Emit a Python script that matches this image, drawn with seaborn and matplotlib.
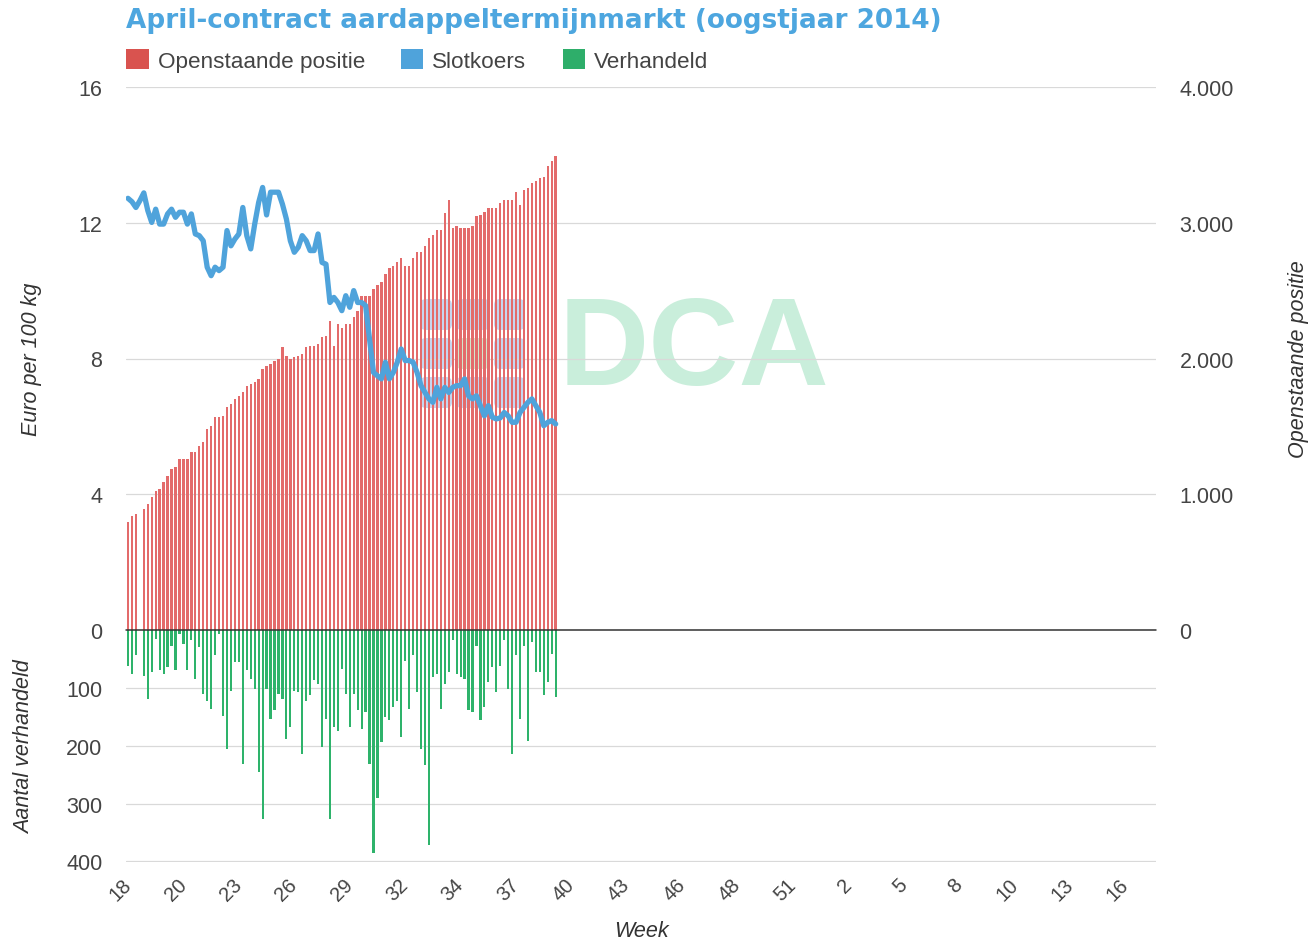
import numpy as np
import pandas as pd
import seaborn as sns
import matplotlib.pyplot as plt
from matplotlib.patches import Patch, FancyBboxPatch

# week labels on the x axis (one every 14 trading days)
week_labels = ['18', '20', '23', '26', '29', '32', '34', '37', '40', '43',
               '46', '48', '51', '2', '5', '8', '10', '13', '16']
right_tick_labels = ['0', '1.000', '2.000', '3.000', '4.000']

# open interest per trading day (right axis)
openstaand = [793, 842, 855, np.nan, 891, 928, 977, 1026, 1039, 1088, 1137, 1186, 1198, 1260,
              1260, 1260, 1309, 1309, 1358, 1382, 1481, 1505, 1567, 1567, 1579, 1640, 1665, 1702,
              1726, 1751, 1800, 1812, 1824, 1849, 1923, 1947, 1960, 1984, 1996, 2082, 2021, 1996,
              2009, 2021, 2033, 2082, 2095, 2095, 2107, 2156, 2168, 2277, 2095, 2252, 2227, 2252,
              2252, 2303, 2352, 2463, 2458, 2463, 2512, 2541, 2566, 2622, 2664, 2679, 2713, 2740,
              2679, 2679, 2740, 2787, 2787, 2826, 2885, 2910, 2949, 2949, 3072, 3170, 2959, 2974,
              2959, 2959, 2959, 2974, 3047, 3057, 3082, 3106, 3106, 3106, 3145, 3170, 3170, 3170,
              3229, 3131, 3244, 3256, 3293, 3305, 3327, 3339, 3416, 3453, 3489]

# closing price, euro per 100 kg (left axis)
slotkoers = [12.72, 12.62, 12.45, 12.65, 12.88, 12.36, 12.01, 12.40, 11.96, 11.96, 12.26, 12.40,
             12.16, 12.31, 12.31, 11.96, 12.26, 11.67, 11.62, 11.47, 10.69, 10.44, 10.69, 10.59,
             10.69, 11.77, 11.32, 11.52, 11.67, 12.45, 11.62, 11.23, 11.96, 12.60, 13.04, 12.23,
             12.90, 12.90, 12.90, 12.55, 12.11, 11.47, 11.13, 11.28, 11.62, 11.47, 11.18, 11.18,
             11.67, 10.83, 10.78, 9.65, 9.80, 9.65, 9.41, 9.85,
             9.51, 10.00, 9.65, 9.65, 9.56, 8.57, 7.59, 7.49, 7.40, 7.89, 7.40, 7.59, 7.89, 8.28,
             7.94, 7.94, 7.89, 7.59, 7.20, 7.00, 6.81, 6.71, 7.15, 6.81, 7.15, 7.00, 7.15, 7.20,
             7.20, 7.40, 6.90, 6.81, 6.90, 6.61, 6.31, 6.61, 6.27, 6.22, 6.25, 6.41, 6.31, 6.12,
             6.12, 6.41, 6.56, 6.71, 6.81, 6.61, 6.41, 6.02, 6.12, 6.17, 6.07]

# contracts traded per day (lower panel)
verhandeld = [62, 76, 44, np.nan, 79, 119, 73, 16, 70, 76, 64, 27, 70, 7, 24, 70, 18, 85, 30, 110,
              122, 136, 44, 7, 148, 205, 105, 56, 56, 231, 70, 85, 102, 245, 326, 102, 153, 139,
              110, 119, 188, 168, 105, 107, 214, 122, 113, 87, 93, 202, 153, 326, 168, 174, 67, 110,
              168, 110, 139, 171, 142, 231, 386, 291, 194, 151, 156, 133, 122, 185, 53, 136, 44,
              107, 205, 234, 372, 82, 76, 136, 93, 73, 18, 76, 82, 85, 139, 142, 27, 156, 133, 90,
              64, 107, 62, 18, 102, 214, 44, 153, 27, 191, 21, 73, 73, 113, 90, 41, 116]

RED = '#e36b6b'
BLUE = '#4fa3db'
GREEN = '#2eb36b'
TXT = '#444444'

df = pd.DataFrame({
    'dag': np.arange(len(openstaand)),
    'Openstaande positie': openstaand,
    'Slotkoers': slotkoers,
    'Verhandeld': verhandeld,
})

sns.set_theme(style='white')
plt.rcParams['font.family'] = ['Liberation Sans', 'DejaVu Sans']

W, H = 1313, 945
fig = plt.figure(figsize=(W / 100, H / 100), dpi=100, facecolor='white')
left, width = 126 / W, 1030 / W

# faint DCA watermark on its own pixel-based axes behind everything
wm = fig.add_axes([0, 0, 1, 1], zorder=-5)
wm.set_xlim(0, W)
wm.set_ylim(H, 0)
wm.axis('off')
for row_y in [300, 339, 378]:
    for x0, x1 in [(420, 452), (456, 490), (494, 525)]:
        col = '#d3e8cd' if (row_y == 339 and x0 == 456) else '#c6d6ef'
        wm.add_patch(FancyBboxPatch((x0, row_y), x1 - x0, 31,
                                    boxstyle='round,pad=0,rounding_size=6',
                                    facecolor=col, edgecolor='none'))
wm.text(559, 353, 'DCA', fontsize=90, fontweight='bold', color='#c9eedb',
        ha='left', va='center', family='Liberation Sans')

ax = fig.add_axes([left, (H - 631) / H, width, 543 / H])
ax2 = ax.twinx()
axb = fig.add_axes([left, (H - 863) / H, width, 232 / H], sharex=ax)

for a in (ax, ax2, axb):
    a.patch.set_visible(False)
    for s in a.spines.values():
        s.set_visible(False)

# red bars: open interest
sns.barplot(data=df, x='dag', y='Openstaande positie', ax=ax2, native_scale=True,
            color=RED, linewidth=0, width=0.6, errorbar=None, saturation=1)
# blue line: closing price
sns.lineplot(data=df, x='dag', y='Slotkoers', ax=ax, color=BLUE, linewidth=3.8)
# green bars: traded volume
sns.barplot(data=df, x='dag', y='Verhandeld', ax=axb, native_scale=True,
            color=GREEN, linewidth=0, width=0.55, errorbar=None, saturation=1)

ax.set_zorder(ax2.get_zorder() + 1)

ax.set_ylim(0, 16)
ax.set_yticks([0, 4, 8, 12, 16])
ax2.set_ylim(0, 4000)
ax2.set_yticks([0, 1000, 2000, 3000, 4000])
ax2.set_yticklabels(right_tick_labels)
axb.set_ylim(401, 0)
axb.set_yticks([100, 200, 300, 400])

axb.set_xlim(-0.5, 259.6)
axb.set_xticks(np.arange(0, 14 * len(week_labels), 14))
axb.set_xticklabels(week_labels, rotation=45, ha='right', va='center', rotation_mode='anchor')

ax.grid(False)
ax2.grid(axis='y', color='#d9d9d9', linewidth=0.9)
ax2.grid(axis='x', visible=False)
axb.grid(axis='y', color='#d9d9d9', linewidth=0.9)
axb.grid(axis='x', visible=False)
ax2.set_axisbelow(True)
axb.set_axisbelow(True)
ax.axhline(0, color='#333333', linewidth=1.1, clip_on=False, zorder=5)

ax.tick_params(axis='y', length=0, pad=17, labelsize=15.5, labelcolor=TXT)
ax2.tick_params(axis='y', length=0, pad=17, labelsize=15.5, labelcolor=TXT)
axb.tick_params(axis='y', length=0, pad=17, labelsize=15.5, labelcolor=TXT)
ax.tick_params(axis='x', length=0, labelbottom=False)
ax2.tick_params(axis='x', length=0, labelbottom=False)
axb.tick_params(axis='x', length=0, pad=14, labelsize=14.5, labelcolor=TXT)

ax.set_xlabel('')
ax.set_ylabel('Euro per 100 kg', fontsize=15.5, style='italic', color='#333333', va='center')
ax.yaxis.set_label_coords(-0.0913, 0.5)
ax2.set_ylabel('Openstaande positie', fontsize=15.5, style='italic', color='#333333',
               va='center', rotation=90)
ax2.yaxis.set_label_coords(1.138, 0.5)
axb.set_ylabel('Aantal verhandeld', fontsize=15.5, style='italic', color='#333333', va='center')
axb.yaxis.set_label_coords(-0.098, 0.5)
axb.set_xlabel('Week', fontsize=15.5, style='italic', color='#333333', va='center')
axb.xaxis.set_label_coords(0.5, -0.297)

fig.text(left, 1 - 21 / H, 'April-contract aardappeltermijnmarkt (oogstjaar 2014)',
         fontsize=18.9, fontweight='bold', color='#4da6df', ha='left', va='center',
         family='DejaVu Sans')

handles = [Patch(facecolor='#d9534f', edgecolor='none', label='Openstaande positie'),
           Patch(facecolor=BLUE, edgecolor='none', label='Slotkoers'),
           Patch(facecolor='#2eae6a', edgecolor='none', label='Verhandeld')]
fig.legend(handles=handles, loc='upper left', bbox_to_anchor=(left, 1 - 50 / H), ncol=3,
           frameon=False, fontsize=16.2, handlelength=1.0, handleheight=1.0,
           handletextpad=0.4, columnspacing=1.6, borderpad=0, borderaxespad=0,
           labelcolor=TXT)

fig.savefig('out.png', dpi=100, facecolor='white')
